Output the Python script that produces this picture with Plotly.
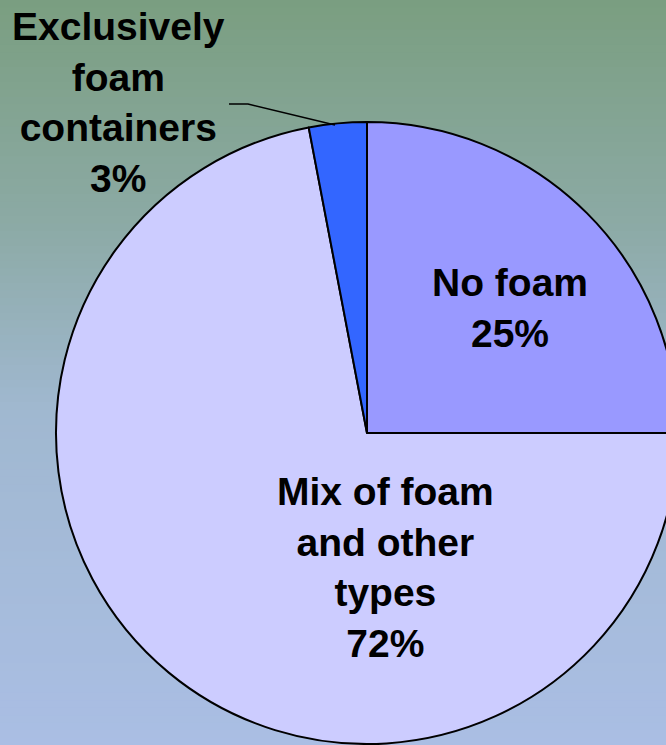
import plotly.graph_objects as go

# ---- data ----
labels = ["No foam", "Mix of foam<br>and other<br>types", "Exclusively<br>foam<br>containers"]
values = [25, 72, 3]
colors = ["#9999FF", "#CCCCFF", "#3366FF"]

W, H = 690, 745  # a bit wider than the window so the pie runs off the right edge

fig = go.Figure(go.Pie(
    labels=labels,
    values=values,
    sort=False,
    direction="clockwise",
    rotation=0,
    textinfo="none",
    hoverinfo="label+percent",
    marker=dict(colors=colors, line=dict(color="black", width=2)),
    domain=dict(x=[56 / W, 678 / W], y=[1 / H, 623 / H]),
    showlegend=False,
))

# background gradient, green at top to pale blue at bottom
stops = [(0.0, (122, 158, 128)), (0.3, (140, 170, 165)),
         (0.55, (160, 184, 208)), (1.0, (170, 190, 228))]

def grad_color(t):
    for (t0, c0), (t1, c1) in zip(stops[:-1], stops[1:]):
        if t <= t1:
            f = (t - t0) / (t1 - t0)
            return "rgb(%d,%d,%d)" % tuple(round(a + (b - a) * f) for a, b in zip(c0, c1))
    return "rgb(%d,%d,%d)" % stops[-1][1]

nb = 100
shapes = []
for i in range(nb):
    y1 = 1 - i / nb
    y0 = 1 - (i + 1) / nb
    shapes.append(dict(type="rect", xref="paper", yref="paper", x0=0, x1=1,
                       y0=y0 - 0.002, y1=y1, line_width=0,
                       fillcolor=grad_color((i + 0.5) / nb), layer="below"))

# leader line for the small slice
shapes.append(dict(type="path", xref="paper", yref="paper",
                   path="M %f,%f L %f,%f L %f,%f" % (229 / W, 1 - 104 / H, 248 / W, 1 - 104 / H,
                                                     335 / W, 1 - 125 / H),
                   line=dict(color="black", width=1.5), layer="above"))

# slice labels: text + percent, placed by hand
label_pos = [(510, 308), (385, 567), (118, 103)]
annotations = []
for lab, v, (px_, py_) in zip(labels, values, label_pos):
    annotations.append(dict(
        x=px_ / W, y=1 - py_ / H, xref="paper", yref="paper",
        text="<b>%s<br>%d%%</b>" % (lab, v), showarrow=False,
        xanchor="center", yanchor="middle", align="center",
        font=dict(family="Liberation Sans, Arial", size=39, color="black"),
    ))

fig.update_layout(
    width=W, height=H,
    margin=dict(l=0, r=0, t=0, b=0),
    paper_bgcolor="#A9BEE2",
    shapes=shapes,
    annotations=annotations,
)

fig.write_html("out.html", config={"displayModeBar": False},
               post_script="document.body.style.margin='0';document.body.style.overflow='hidden';")
